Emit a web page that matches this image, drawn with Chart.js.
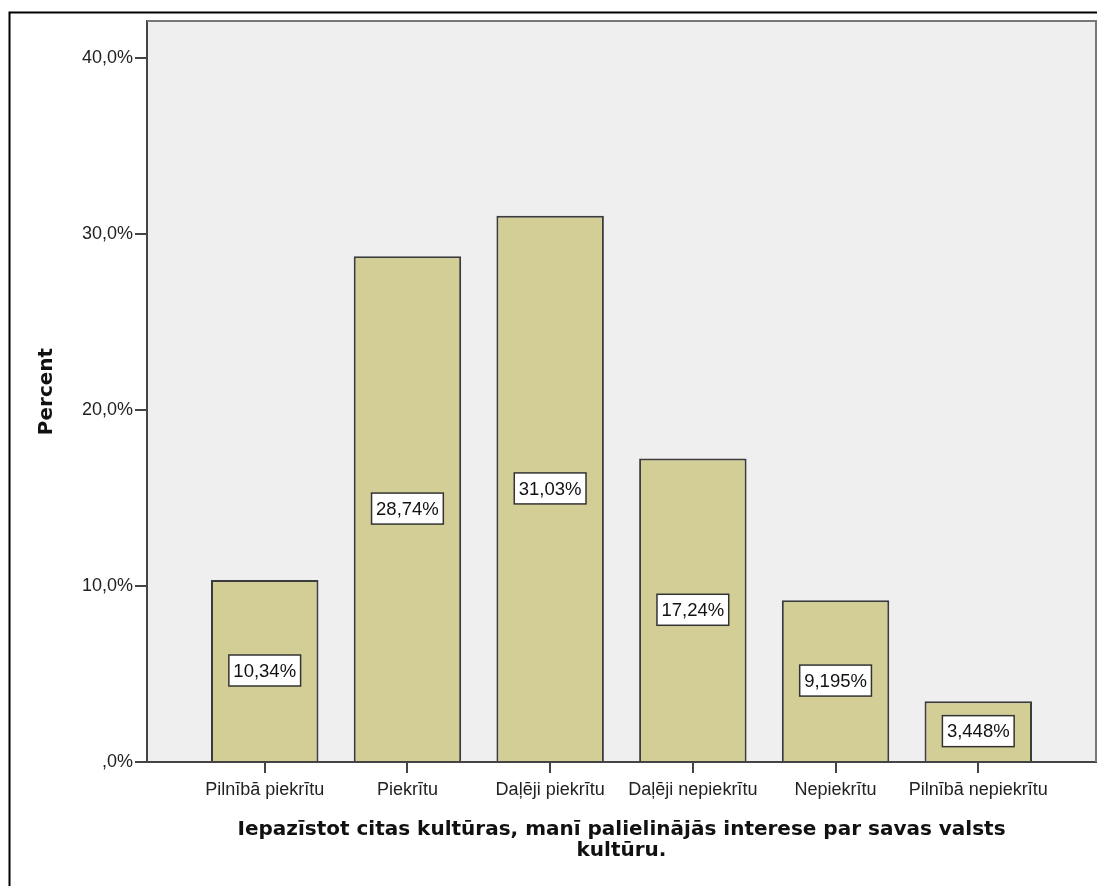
<!DOCTYPE html>
<html lang="lv">
<head>
<meta charset="UTF-8">
<title>Iepazīstot citas kultūras</title>
<script src="https://cdn.jsdelivr.net/npm/chart.js@4.4.1/dist/chart.umd.min.js"></script>
<style>
    html, body { margin: 0; padding: 0; background: #fff; }
    #wrap { width: 1097px; height: 886px; }
</style>
</head>
<body>
<div id="wrap"><canvas id="chart" width="1097" height="886"></canvas></div>
<script>
const categories = ['Pilnībā piekrītu', 'Piekrītu', 'Daļēji piekrītu', 'Daļēji nepiekrītu', 'Nepiekrītu', 'Pilnībā nepiekrītu'];
const percents = [10.34, 28.74, 31.03, 17.24, 9.195, 3.448];
const percentLabels = ['10,34%', '28,74%', '31,03%', '17,24%', '9,195%', '3,448%'];
const yTicks = [0, 10, 20, 30, 40];
const yTickLabels = [',0%', '10,0%', '20,0%', '30,0%', '40,0%'];
const xTitle = ['Iepazīstot citas kultūras, manī palielinājās interese par savas valsts', 'kultūru.'];
const yTitle = 'Percent';

const tickFont = { family: 'Liberation Sans, Arial, sans-serif', size: 18 };
const titleFont = { family: 'DejaVu Sans, Verdana, sans-serif', size: 20, weight: 'bold', lineHeight: 1.05 };

// white page, outer frame, grey plot area
const backdrop = {
    id: 'backdrop',
    beforeDraw(chart) {
        const { ctx, chartArea: a } = chart;
        ctx.save();
        ctx.fillStyle = '#fff';
        ctx.fillRect(0, 0, chart.width, chart.height);
        ctx.strokeStyle = '#000';
        ctx.lineWidth = 2;
        ctx.strokeRect(9.5, 12.5, 1200, 1000);
        ctx.fillStyle = '#efefef';
        ctx.fillRect(a.left, a.top, a.right - a.left, a.bottom - a.top);
        ctx.restore();
    },
    afterDraw(chart) {
        const { ctx, chartArea: a } = chart;
        ctx.save();
        ctx.strokeStyle = '#777';
        ctx.lineWidth = 2;
        ctx.beginPath();
        ctx.moveTo(a.left, a.top);
        ctx.lineTo(a.right, a.top);
        ctx.lineTo(a.right, a.bottom);
        ctx.stroke();
        ctx.restore();
    }
};

// boxed value labels in the middle of each bar
const boxLabels = {
    id: 'boxLabels',
    afterDatasetsDraw(chart) {
        const { ctx } = chart;
        const meta = chart.getDatasetMeta(0);
        ctx.save();
        ctx.font = '18.5px Liberation Sans, Arial, sans-serif';
        ctx.textAlign = 'center';
        ctx.textBaseline = 'middle';
        meta.data.forEach((bar, i) => {
            const txt = percentLabels[i];
            const cx = bar.x;
            const cy = (bar.y + bar.base) / 2;
            const w = ctx.measureText(txt).width + 9;
            const h = 31;
            ctx.fillStyle = '#fff';
            ctx.fillRect(cx - w / 2, cy - h / 2, w, h);
            ctx.strokeStyle = '#333';
            ctx.lineWidth = 1.5;
            ctx.strokeRect(cx - w / 2, cy - h / 2, w, h);
            ctx.fillStyle = '#111';
            ctx.fillText(txt, cx, cy + 1);
        });
        ctx.restore();
    }
};

new Chart(document.getElementById('chart'), {
    type: 'bar',
    data: {
        datasets: [{
            data: percents.map((v, i) => ({ x: i, y: v })),
            backgroundColor: '#d3ce96',
            borderColor: '#3c3c3c',
            borderWidth: 2,
            borderSkipped: 'bottom',
            barPercentage: 0.753,
            categoryPercentage: 1
        }]
    },
    options: {
        responsive: false,
        animation: false,
        layout: { padding: { left: 0, top: 21, right: 1, bottom: 0 } },
        plugins: {
            legend: { display: false },
            tooltip: { enabled: false }
        },
        scales: {
            x: {
                type: 'linear',
                min: -0.825,
                max: 5.825,
                offset: false,
                afterFit(scale) { scale.height = 124; },
                afterBuildTicks(scale) { scale.ticks = categories.map((c, i) => ({ value: i })); },
                ticks: {
                    autoSkip: false,
                    maxRotation: 0,
                    includeBounds: false,
                    padding: 6,
                    color: '#222',
                    font: tickFont,
                    callback: v => categories[v]
                },
                grid: { display: true, offset: false, drawOnChartArea: false, tickLength: 11, color: '#444', lineWidth: 2 },
                border: { display: true, color: '#444', width: 2 },
                title: {
                    display: true,
                    text: xTitle,
                    color: '#111',
                    font: titleFont,
                    padding: { top: 0, bottom: 25 }
                }
            },
            y: {
                min: 0,
                max: 42.1,
                afterFit(scale) { scale.width = 147; },
                afterBuildTicks(scale) { scale.ticks = yTicks.map(v => ({ value: v })); },
                ticks: {
                    includeBounds: false,
                    padding: 2,
                    color: '#222',
                    font: tickFont,
                    callback: v => yTickLabels[yTicks.indexOf(v)]
                },
                grid: { display: true, drawOnChartArea: false, tickLength: 12, color: '#444', lineWidth: 2 },
                border: { display: true, color: '#444', width: 2 },
                title: {
                    display: true,
                    text: yTitle,
                    color: '#111',
                    font: { family: 'DejaVu Sans, Verdana, sans-serif', size: 20, weight: 'bold', lineHeight: 1.2 },
                    padding: { top: 35, bottom: 0 }
                }
            }
        }
    },
    plugins: [backdrop, boxLabels]
});
</script>
</body>
</html>
